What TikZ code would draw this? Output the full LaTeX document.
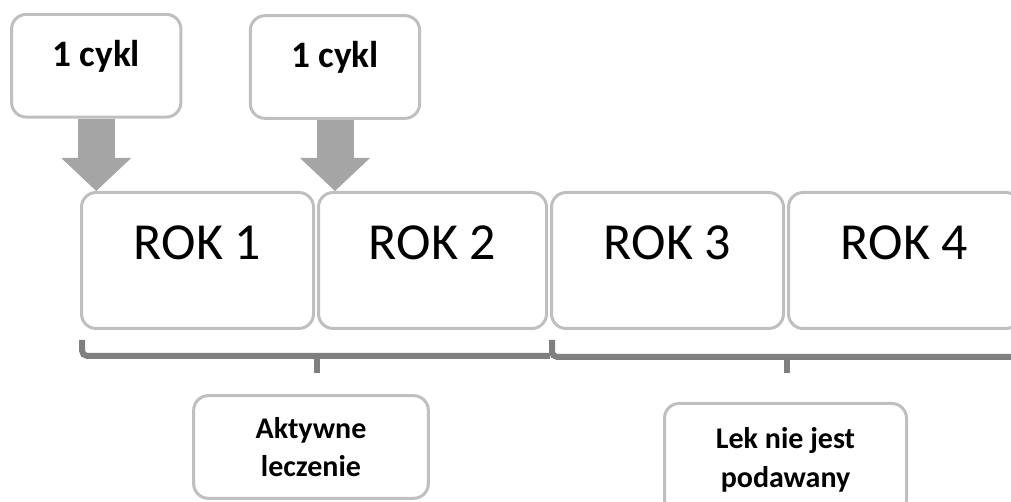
\documentclass[tikz,border=0pt]{standalone}
\usepackage{fontspec}
\setmainfont{Carlito}
\usetikzlibrary{positioning, arrows.meta}
\definecolor{ramkaszary}{HTML}{BFBFBF}
\definecolor{strzalka}{HTML}{A5A5A5}
\definecolor{klamraszary}{HTML}{7F7F7F}

\begin{document}
\begin{tikzpicture}[x=0.75pt, y=-0.75pt]
		\tikzstyle{ramka} = [draw=ramkaszary, line width=2.25pt, rounded corners=11pt, fill=white, inner sep=0pt]
		\tikzstyle{cykl} = [ramka, minimum width=127pt, text height=39pt, text depth=38pt, font=\bfseries\fontsize{28}{32}\selectfont]
		\tikzstyle{rok} = [ramka, minimum width=174pt, text height=50.5pt, text depth=51.5pt, font=\fontsize{39}{44}\selectfont]
		\tikzstyle{opis} = [ramka, align=center, font=\bfseries\fontsize{22.5}{29}\selectfont]
		\tikzstyle{strz} = [strzalka, line width=27.75pt, -{Triangle[width=52.5pt, length=24.75pt, line width=0pt]}]
		\tikzstyle{klamra} = [klamraszary, line width=4.5pt, rounded corners=4pt]
		\useasboundingbox (0,0) rectangle (1011,502);

		% cykle
		\node[cykl] (cykl1) at (96.25,65.75) {1 cykl};
		\node[cykl] (cykl2) at (335,67) {1 cykl};

		% lata
		\node[rok] (rok1) at (197.5,260.5) {ROK 1};
		\node[rok, minimum width=171pt, right=1.5pt of rok1] (rok2) {ROK 2};
		\node[rok, right=1.5pt of rok2] (rok3) {ROK 3};
		\node[rok, right=1.5pt of rok3] (rok4) {ROK 4};

		\draw[strz] (cykl1) -- (cykl1 |- rok1.north);
		\draw[strz] (cykl2) -- (cykl2 |- rok2.north);

		% klamry
		\draw[klamra] (82,340) |- (550,356); \draw[klamra] (317,356) -- (317,373);
		\draw[klamra] (552,340) |- (1020,357); \draw[klamra] (787,357) -- (787,373);

		\node[opis, minimum width=176pt, minimum height=77pt] (aktywne) at (311,447) {Aktywne\\leczenie};
		\node[opis, minimum width=181.5pt, minimum height=84pt] (lek) at (785.5,459.5) {Lek nie jest\\podawany};
		\end{tikzpicture}
\end{document}
